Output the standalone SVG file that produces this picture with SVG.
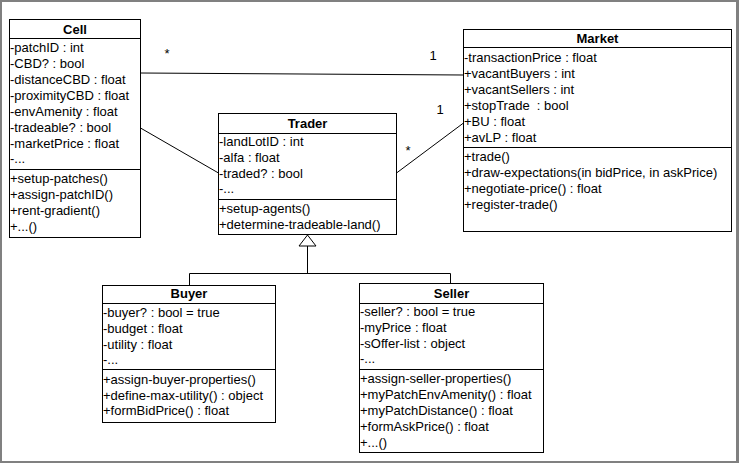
<svg xmlns="http://www.w3.org/2000/svg" width="739" height="463" viewBox="0 0 739 463">
<style>
.box{fill:#fff;stroke:#000;stroke-width:1}
.sep{stroke:#000;stroke-width:1}
.t{font-family:"Liberation Sans",Arial,sans-serif;font-size:13px;fill:#000}
.h{font-family:"Liberation Sans",Arial,sans-serif;font-size:13px;font-weight:bold;fill:#000;text-anchor:middle}
.c{stroke:#000;stroke-width:1;fill:none}
.m{font-family:"Liberation Sans",Arial,sans-serif;font-size:13px;fill:#000;text-anchor:middle}
</style>
<rect x="0" y="0" width="739" height="463" fill="#fff"/>
<g id="frame" fill="#808080">
<rect x="0" y="0" width="739" height="2"/>
<rect x="0" y="0" width="2" height="463"/>
<rect x="736" y="0" width="3" height="463"/>
<rect x="0" y="461" width="739" height="2"/>
</g>
<g id="connectors">
<path class="c" d="M140.5,73 L463.5,75"/>
<path class="c" d="M140.5,128 L218.5,173"/>
<path class="c" d="M396.5,173 L463.5,123"/>
<path class="c" d="M307.5,246 V273.5 M189.5,273.5 H450.5 M189.5,273.5 V285.5 M450.5,273.5 V283.5"/>
<polygon points="307.5,235 299,246 316,246" fill="#fff" stroke="#000" stroke-width="1"/>
<text class="m" x="167" y="57.5">*</text>
<text class="m" x="433" y="59.5">1</text>
<text class="m" x="440" y="113.5">1</text>
<text class="m" x="408" y="154.5">*</text>
</g>
<g id="Cell">
<rect class="box" x="9.5" y="19.5" width="131" height="218"/>
<path class="sep" d="M9.5,38.5 H140.5 M9.5,169.5 H140.5"/>
<text class="h" x="75" y="34">Cell</text>
<text class="t" x="10" y="52">-patchID : int</text>
<text class="t" x="10" y="68">-CBD? : bool</text>
<text class="t" x="10" y="84">-distanceCBD : float</text>
<text class="t" x="10" y="100">-proximityCBD : float</text>
<text class="t" x="10" y="116">-envAmenity : float</text>
<text class="t" x="10" y="132">-tradeable? : bool</text>
<text class="t" x="10" y="148">-marketPrice : float</text>
<text class="t" x="10" y="163">-...</text>
<text class="t" x="10" y="183">+setup-patches()</text>
<text class="t" x="10" y="199">+assign-patchID()</text>
<text class="t" x="10" y="215">+rent-gradient()</text>
<text class="t" x="10" y="231">+...()</text>
</g>
<g id="Market">
<rect class="box" x="463.5" y="29.5" width="268" height="202"/>
<path class="sep" d="M463.5,47.5 H731.5 M463.5,147.5 H731.5"/>
<text class="h" x="597.5" y="43">Market</text>
<text class="t" x="464" y="62">-transactionPrice : float</text>
<text class="t" x="464" y="78">+vacantBuyers : int</text>
<text class="t" x="464" y="94">+vacantSellers : int</text>
<text class="t" x="464" y="110" xml:space="preserve">+stopTrade  : bool</text>
<text class="t" x="464" y="126">+BU : float</text>
<text class="t" x="464" y="142">+avLP : float</text>
<text class="t" x="464" y="161">+trade()</text>
<text class="t" x="464" y="177">+draw-expectations(in bidPrice, in askPrice)</text>
<text class="t" x="464" y="193">+negotiate-price() : float</text>
<text class="t" x="464" y="209">+register-trade()</text>
</g>
<g id="Trader">
<rect class="box" x="218.5" y="113.5" width="178" height="121"/>
<path class="sep" d="M218.5,133.5 H396.5 M218.5,199.5 H396.5"/>
<text class="h" x="307.5" y="128">Trader</text>
<text class="t" x="219" y="146">-landLotID : int</text>
<text class="t" x="219" y="162">-alfa : float</text>
<text class="t" x="219" y="178">-traded? : bool</text>
<text class="t" x="219" y="193">-...</text>
<text class="t" x="219" y="213">+setup-agents()</text>
<text class="t" x="219" y="229">+determine-tradeable-land()</text>
</g>
<g id="Buyer">
<rect class="box" x="102.5" y="285.5" width="173" height="137"/>
<path class="sep" d="M102.5,303.5 H275.5 M102.5,369.5 H275.5"/>
<text class="h" x="189" y="298">Buyer</text>
<text class="t" x="103" y="317">-buyer? : bool = true</text>
<text class="t" x="103" y="333">-budget : float</text>
<text class="t" x="103" y="349">-utility : float</text>
<text class="t" x="103" y="364">-...</text>
<text class="t" x="103" y="384">+assign-buyer-properties()</text>
<text class="t" x="103" y="400">+define-max-utility() : object</text>
<text class="t" x="103" y="415">+formBidPrice() : float</text>
</g>
<g id="Seller">
<rect class="box" x="359.5" y="283.5" width="184" height="169"/>
<path class="sep" d="M359.5,303.5 H543.5 M359.5,369.5 H543.5"/>
<text class="h" x="451.5" y="298">Seller</text>
<text class="t" x="360" y="316">-seller? : bool = true</text>
<text class="t" x="360" y="332">-myPrice : float</text>
<text class="t" x="360" y="348">-sOffer-list : object</text>
<text class="t" x="360" y="363">-...</text>
<text class="t" x="360" y="383">+assign-seller-properties()</text>
<text class="t" x="360" y="399">+myPatchEnvAmenity() : float</text>
<text class="t" x="360" y="415">+myPatchDistance() : float</text>
<text class="t" x="360" y="431">+formAskPrice() : float</text>
<text class="t" x="360" y="447">+...()</text>
</g>
</svg>
